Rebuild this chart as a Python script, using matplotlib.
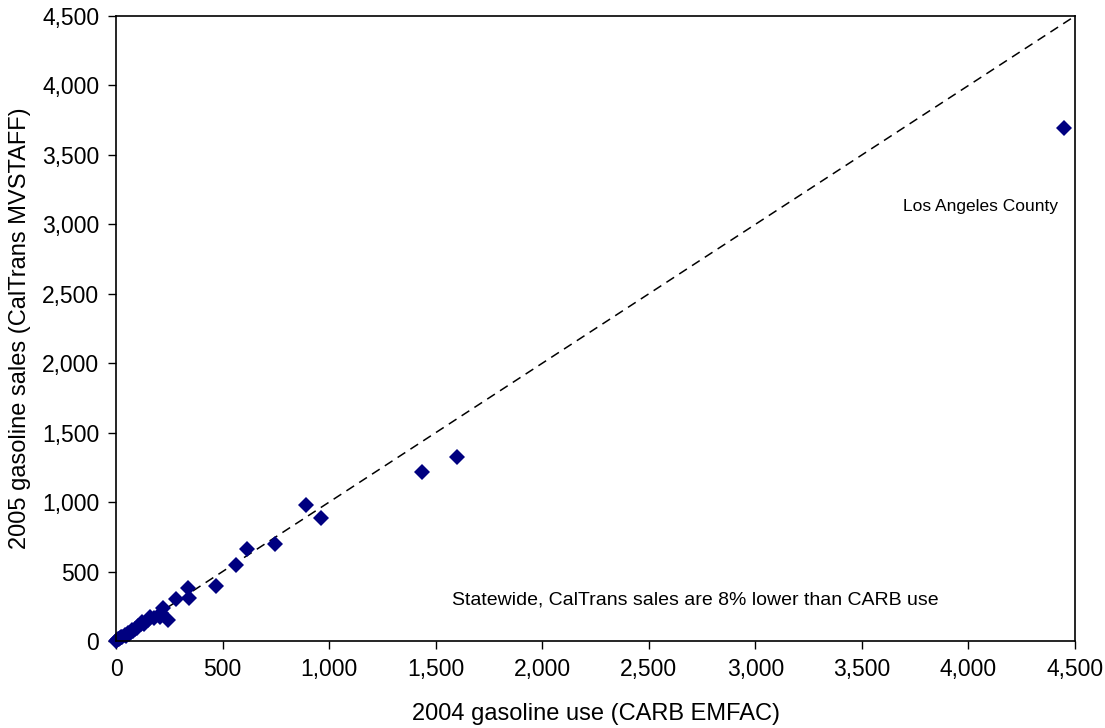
import matplotlib
matplotlib.use("Agg")
import matplotlib.pyplot as plt
from matplotlib.ticker import FuncFormatter, MultipleLocator

plt.rcParams['font.family'] = ['Liberation Sans', 'DejaVu Sans']

# County values (million gallons)
carb_use_2004 = [0, 5, 10, 15, 20, 25, 30, 40, 45, 55, 60, 70, 75, 80, 90, 100, 105,
                 115, 120, 130, 150, 160, 180, 206, 210, 219, 246, 280, 339, 344,
                 468, 563, 613, 745, 890, 962, 1434, 1600, 4446]
caltrans_sales_2005 = [0, 8, 12, 18, 22, 30, 28, 40, 38, 55, 50, 65, 80, 70, 90, 95, 110,
                       120, 139, 125, 150, 175, 165, 175, 200, 235, 151, 305, 379, 307,
                       396, 547, 662, 696, 979, 883, 1215, 1323, 3696]
line_ends = [0, 4500]

fig = plt.figure(figsize=(11.05, 7.28), dpi=100)
ax = fig.add_axes([0.105, 0.1195, 0.8679, 0.8585])

ax.plot(line_ends, line_ends, linestyle=(0, (6, 4)), color='black', linewidth=1.1)
ax.plot(carb_use_2004, caltrans_sales_2005, linestyle='none', marker='D',
        markersize=8, markeredgewidth=0, color='#000080', clip_on=False)

ax.set_xlim(0, 4500)
ax.set_ylim(0, 4500)
ax.xaxis.set_major_locator(MultipleLocator(500))
ax.yaxis.set_major_locator(MultipleLocator(500))
fmt = FuncFormatter(lambda v, p: f"{int(v):,}")
ax.xaxis.set_major_formatter(fmt)
ax.yaxis.set_major_formatter(fmt)
ax.tick_params(direction='out', length=6, width=1, labelsize=16.5, pad=6)
for s in ax.spines.values():
    s.set_linewidth(1.2)

ax.set_xlabel("2004 gasoline use (CARB EMFAC)", fontsize=17, labelpad=16)
ax.set_ylabel("2005 gasoline sales (CalTrans MVSTAFF)", fontsize=17, labelpad=8)

ax.text(4054, 3125, "Los Angeles County", fontsize=12.5, ha='center', va='center')
ax.text(2717, 295, "Statewide, CalTrans sales are 8% lower than CARB use",
        fontsize=14, ha='center', va='center')

fig.savefig("out.png", dpi=100)
